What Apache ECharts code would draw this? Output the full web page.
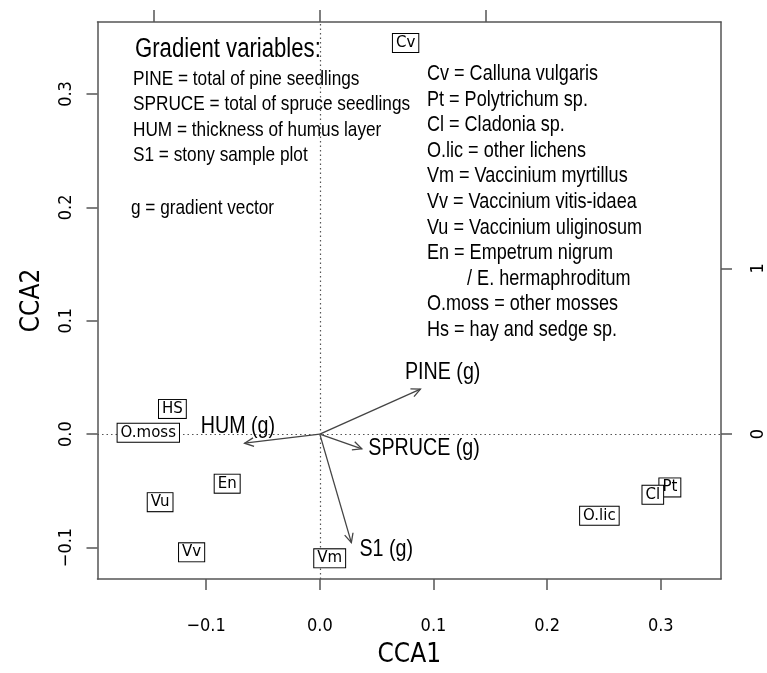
<!DOCTYPE html>
<html><head><meta charset="utf-8">
<script src="https://cdn.jsdelivr.net/npm/echarts@6/dist/echarts.min.js"></script>
<style>html,body{margin:0;padding:0;background:#fff}#c{width:767px;height:673px}</style>
</head><body><div id="c"></div>
<script>
// ---- data ----
const xTicks = [-0.1, 0.0, 0.1, 0.2, 0.3];
const yTicks = [-0.1, 0.0, 0.1, 0.2, 0.3];
const topTicks = [-1, 0, 1];
const rightTicks = [0, 1];

const speciesNames = ['Cv', 'Pt', 'Cl', 'O.lic', 'Vm', 'Vv', 'Vu', 'En', 'O.moss', 'HS'];
const speciesX = [0.0755, 0.308, 0.293, 0.246, 0.0087, -0.1128, -0.1405, -0.0815, -0.1509, -0.1297];
const speciesY = [0.345, -0.047, -0.0535, -0.072, -0.1096, -0.1043, -0.060, -0.0437, 0.0013, 0.0222];

const vectorNames = ['PINE (g)', 'SPRUCE (g)', 'HUM (g)', 'S1 (g)'];
const vectorX = [0.606, 0.253, -0.453, 0.190];
const vectorY = [0.272, -0.089, -0.055, -0.655];
const vectorLabelX = [0.740, 0.628, -0.493, 0.400];
const vectorLabelY = [0.372, -0.085, 0.049, -0.693];

const gradientTitle = 'Gradient variables:';
const gradientLines = ['PINE = total of pine seedlings', 'SPRUCE = total of spruce seedlings',
  'HUM = thickness of humus layer', 'S1 = stony sample plot'];
const gradientNote = 'g = gradient vector';
const speciesLegend = ['Cv = Calluna vulgaris', 'Pt = Polytrichum sp.', 'Cl = Cladonia sp.',
  'O.lic = other lichens', 'Vm = Vaccinium myrtillus', 'Vv = Vaccinium vitis-idaea',
  'Vu = Vaccinium uliginosum', 'En = Empetrum nigrum', '        / E. hermaphroditum',
  'O.moss = other mosses', 'Hs = hay and sedge sp.'];

// ---- axis extents ----
const XMIN = -0.1956, XMAX = 0.3530, YMIN = -0.1278, YMAX = 0.3635;
const VSCALE = 0.1461; // one vector unit in CCA units
const frameColor = '#555';
const axisFont = '"DejaVu Sans Condensed","DejaVu Sans",sans-serif';
const textFont = '"Liberation Sans",Arial,sans-serif';
const NARROW = 0.82;
const fmt = v => (v < 0 ? '\u2212' : '') + Math.abs(v).toFixed(1);

const chart = echarts.init(document.getElementById('c'));
const lineStyle = {color: frameColor, width: 1.5};

function legendText(t, x, y, size) {
  return {type: 'text', x: x, y: y, scaleX: NARROW, silent: true,
    style: {text: t, font: size + 'px ' + textFont, fill: '#000', verticalAlign: 'middle', align: 'left', whiteSpace: 'pre'}};
}
const legendGraphics = [];
legendGraphics.push(legendText(gradientTitle, 135, 50, 27));
const gy = [79, 104, 130, 155];
gradientLines.forEach((t, i) => legendGraphics.push(legendText(t, 133, gy[i], 21)));
legendGraphics.push(legendText(gradientNote, 131, 208, 21));
speciesLegend.forEach((t, i) => legendGraphics.push(legendText(t, 427, 74 + i * 25.6, 22)));

chart.setOption({
  animation: false,
  backgroundColor: '#fff',
  grid: {left: 97.5, right: 37, top: 22, bottom: 86, containLabel: false},
  xAxis: [
    {type: 'value', position: 'bottom', min: XMIN, max: XMAX,
     axisLine: {show: true, onZero: false, lineStyle},
     axisTick: {show: true, length: 11, customValues: xTicks, lineStyle},
     axisLabel: {customValues: xTicks, formatter: fmt, margin: 38, fontSize: 18, color: '#000', fontFamily: axisFont},
     splitLine: {show: false},
     name: 'CCA1', nameLocation: 'middle', nameGap: 63,
     nameTextStyle: {fontSize: 26, color: '#000', fontFamily: axisFont}},
    {type: 'value', position: 'top', min: XMIN / VSCALE, max: XMAX / VSCALE,
     axisLine: {show: true, onZero: false, lineStyle},
     axisTick: {show: true, length: 12, customValues: topTicks, lineStyle},
     axisLabel: {show: false}, splitLine: {show: false}}
  ],
  yAxis: [
    {type: 'value', position: 'left', min: YMIN, max: YMAX,
     axisLine: {show: true, onZero: false, lineStyle},
     axisTick: {show: true, length: 11, customValues: yTicks, lineStyle},
     axisLabel: {customValues: yTicks, formatter: fmt, rotate: 90, margin: 22, fontSize: 18, color: '#000', fontFamily: axisFont},
     splitLine: {show: false},
     name: 'CCA2', nameLocation: 'middle', nameGap: 52, nameRotate: 90,
     nameTextStyle: {fontSize: 26, color: '#000', fontFamily: axisFont}},
    {type: 'value', position: 'right', min: YMIN / VSCALE, max: YMAX / VSCALE,
     axisLine: {show: true, onZero: false, lineStyle},
     axisTick: {show: true, length: 11, customValues: rightTicks, lineStyle},
     axisLabel: {customValues: rightTicks, formatter: v => String(v), rotate: 90, margin: 28, fontSize: 18, color: '#000', fontFamily: axisFont},
     splitLine: {show: false}}
  ],
  graphic: legendGraphics,
  series: [
    {type: 'scatter', data: [], xAxisIndex: 0, yAxisIndex: 0, silent: true,
     markLine: {symbol: 'none', silent: true, animation: false, label: {show: false},
       lineStyle: {type: [1.5, 3], color: '#555', width: 1.2},
       data: [{xAxis: 0}, {yAxis: 0}]}},
    {type: 'custom', xAxisIndex: 1, yAxisIndex: 1, z: 4, clip: false,
     data: vectorNames.map((n, i) => [vectorX[i], vectorY[i], vectorLabelX[i], vectorLabelY[i]]),
     renderItem: (params, api) => {
       const o = api.coord([0, 0]);
       const h = api.coord([api.value(0), api.value(1)]);
       const lp = api.coord([api.value(2), api.value(3)]);
       const ang = Math.atan2(h[1] - o[1], h[0] - o[0]);
       const L = 10, a = Math.PI / 7;
       const p1 = [h[0] - L * Math.cos(ang - a), h[1] - L * Math.sin(ang - a)];
       const p2 = [h[0] - L * Math.cos(ang + a), h[1] - L * Math.sin(ang + a)];
       return {type: 'group', children: [
         {type: 'line', shape: {x1: o[0], y1: o[1], x2: h[0], y2: h[1]}, style: {stroke: '#444', lineWidth: 1.3}},
         {type: 'polyline', shape: {points: [p1, h, p2]}, style: {stroke: '#444', lineWidth: 1.3, fill: null}},
         {type: 'text', x: lp[0], y: lp[1], scaleX: NARROW, style: {text: vectorNames[params.dataIndex], align: 'center', verticalAlign: 'middle', font: '24px ' + textFont, fill: '#000'}}
       ]};
     }},
    {type: 'custom', xAxisIndex: 0, yAxisIndex: 0, z: 5, clip: false,
     data: speciesNames.map((n, i) => [speciesX[i], speciesY[i]]),
     renderItem: (params, api) => {
       const p = api.coord([api.value(0), api.value(1)]);
       return {type: 'text', x: p[0], y: p[1], style: {text: speciesNames[params.dataIndex], align: 'center', verticalAlign: 'middle',
         font: '15px "DejaVu Sans",sans-serif', fill: '#000', backgroundColor: '#fff', borderColor: '#000', borderWidth: 1, padding: [2, 3, 1, 3]}};
     }}
  ]
});
</script>
</body></html>
